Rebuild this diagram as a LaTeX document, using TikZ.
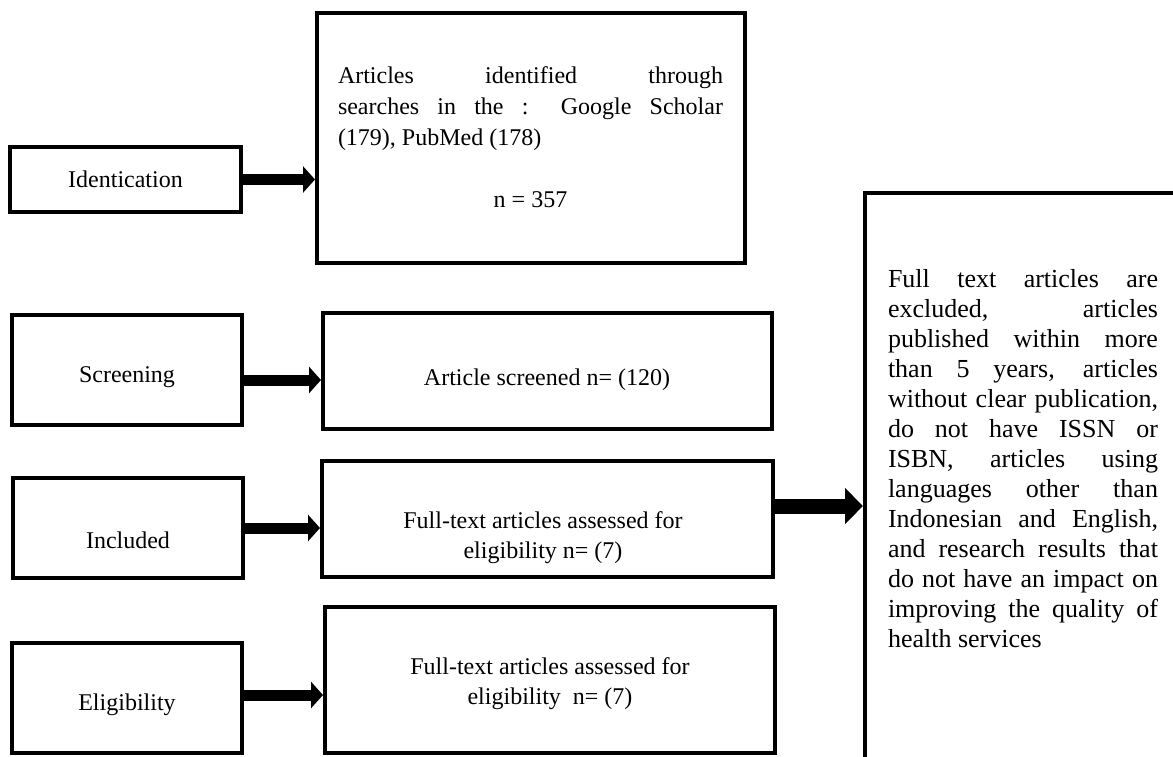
\documentclass[tikz,border=0pt]{standalone}
\usepackage{fontspec}
\setmainfont{Liberation Serif}
\usetikzlibrary{arrows.meta,positioning}
\setlength{\parindent}{0pt}
\begin{document}
\begin{tikzpicture}[x=0.5pt,y=-0.5pt,line join=miter,font=\fontsize{12}{15.5}\selectfont]
    \tikzset{stagebox/.style={draw,line width=2pt,inner sep=0pt}}
    \tikzset{fatarrow/.style={line width=5.5pt,-{Triangle[length=6pt,width=13pt]}}}
    \tikzset{widearrow/.style={line width=7.5pt,-{Triangle[length=9pt,width=17.5pt]}}}
    \useasboundingbox (0,0) rectangle (1173,756);
    \clip (0,0) rectangle (1173,756);
    % stages on the left
    \node[stagebox,minimum width=115.5pt,minimum height=32.5pt] (ident) at (125.5,179.5) {};
    \node[stagebox,minimum width=115pt,minimum height=55pt] (screen) at (127,370) {};
    \node[stagebox,minimum width=115pt,minimum height=50pt] (incl) at (128,528) {};
    \node[stagebox,minimum width=115pt,minimum height=55pt] (elig) at (127,698) {};
    \node (identtxt) at (ident) {Identication};
    \node (screentxt) at (127,377) {Screening};
    \node (incltxt) at (128,540) {Included};
    \node (eligtxt) at (127,705) {Eligibility};
    % counts in the middle
    \node[stagebox,minimum width=214pt,minimum height=125pt] (found) at (531,138) {};
    \node[stagebox,minimum width=224.5pt,minimum height=58pt] (screened) at (547.5,371) {};
    \node[stagebox,minimum width=225.5pt,minimum height=58pt] (assess) at (547.5,519) {};
    \node[stagebox,minimum width=225pt,minimum height=73pt] (final) at (550,680) {};
    \node[text width=192.5pt,align=justify,inner sep=0pt] (foundtxt) at (530.5,137.5)
        {Articles identified through\linebreak searches in the : Google Scholar\linebreak (179), PubMed (178)\par\vspace{15.5pt}\centerline{n = 357}};
    \node (screenedtxt) at (547,380) {Article screened n= (120)};
    \node[align=center,font=\fontsize{12}{15}\selectfont] (assesstxt) at (543,538) {Full-text articles assessed for\\eligibility n= (7)};
    \node[align=center,font=\fontsize{12}{15}\selectfont] (finaltxt) at (550,684) {Full-text articles assessed for\\eligibility\ \ n= (7)};
    % excluded, runs off the page
    \node[stagebox,minimum width=170pt,minimum height=300pt] (excl) at (1035,493) {};
    \node[text width=135pt,align=justify,inner sep=0pt,font=\fontsize{13}{15}\selectfont] (excltxt) at (1023,459)
        {Full text articles are\linebreak excluded, articles\linebreak published within more\linebreak than 5 years, articles\linebreak without clear publication,\linebreak do not have ISSN or\linebreak ISBN, articles using\linebreak languages other than\linebreak Indonesian and English,\linebreak and research results that\linebreak do not have an impact on\linebreak improving the quality of\linebreak health services};
    % arrows
    \draw[fatarrow] (ident.east) -- (ident.east -| found.west);
    \draw[fatarrow] ([yshift=-5pt]screen.east) -- ([yshift=-5pt]screen.east -| screened.west);
    \draw[fatarrow] (incl.east) -- (incl.east -| assess.west);
    \draw[fatarrow] ([yshift=1.5pt]elig.east) -- ([yshift=1.5pt]elig.east -| final.west);
    \draw[widearrow] ([yshift=6.5pt]assess.east) -- ([yshift=6.5pt]assess.east -| excl.west);
\end{tikzpicture}
\end{document}
